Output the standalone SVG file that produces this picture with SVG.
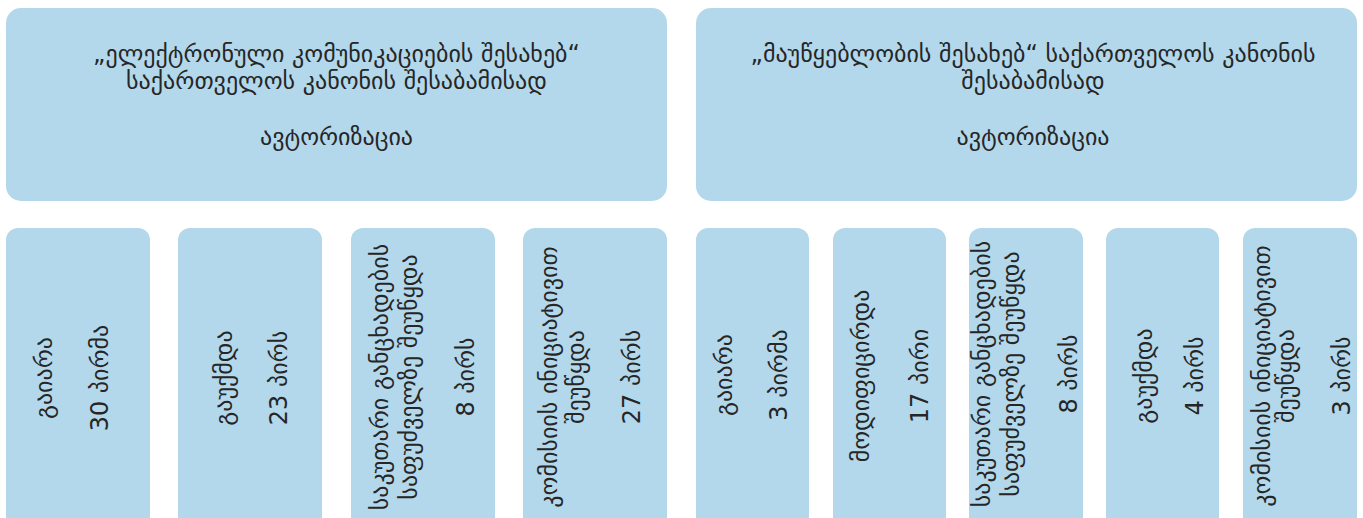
<svg xmlns="http://www.w3.org/2000/svg" width="1363" height="518" viewBox="0 0 1363 518">
<style>
.box{fill:#b3d8eb}
.t{font-family:"DejaVu Sans","Noto Sans",sans-serif;font-size:24px;fill:#262626;text-anchor:middle}
</style>
<rect width="1363" height="518" fill="#ffffff"/>
<g id="top-left">
<rect class="box" x="6" y="8" width="661" height="193" rx="15"/>
<text class="t" x="336.5" y="62">„ელექტრონული კომუნიკაციების შესახებ“</text>
<text class="t" x="336.5" y="89">საქართველოს კანონის შესაბამისად</text>
<text class="t" x="336.5" y="145">ავტორიზაცია</text>
</g>
<g id="top-right">
<rect class="box" x="696" y="8" width="661" height="193" rx="15"/>
<text class="t" x="1033" y="62">„მაუწყებლობის შესახებ“ საქართველოს კანონის</text>
<text class="t" x="1033" y="89">შესაბამისად</text>
<text class="t" x="1033" y="145">ავტორიზაცია</text>
</g>
<g id="b1">
<rect class="box" x="6" y="228" width="144" height="310" rx="12"/>
<text class="t" transform="translate(52,378) rotate(-90)">გაიარა</text>
<text class="t" transform="translate(108,378) rotate(-90)">30 პირმა</text>
</g>
<g id="b2">
<rect class="box" x="178" y="228" width="144" height="310" rx="12"/>
<text class="t" transform="translate(232,378) rotate(-90)">გაუქმდა</text>
<text class="t" transform="translate(287,378) rotate(-90)">23 პირს</text>
</g>
<g id="b3">
<rect class="box" x="351" y="228" width="144" height="310" rx="12"/>
<text class="t" transform="translate(388,377) rotate(-90)">საკუთარი განცხადების</text>
<text class="t" transform="translate(417,377) rotate(-90)">საფუძველზე შეუწყდა</text>
<text class="t" transform="translate(474,377) rotate(-90)">8 პირს</text>
</g>
<g id="b4">
<rect class="box" x="523" y="228" width="144" height="310" rx="12"/>
<text class="t" transform="translate(557,377) rotate(-90)">კომისიის ინიციატივით</text>
<text class="t" transform="translate(584,377) rotate(-90)">შეუწყდა</text>
<text class="t" transform="translate(640,377) rotate(-90)">27 პირს</text>
</g>
<g id="b5">
<rect class="box" x="696" y="228" width="113" height="310" rx="12"/>
<text class="t" transform="translate(732,375) rotate(-90)">გაიარა</text>
<text class="t" transform="translate(787,375) rotate(-90)">3 პირმა</text>
</g>
<g id="b6">
<rect class="box" x="833" y="228" width="113" height="310" rx="12"/>
<text class="t" transform="translate(869,376) rotate(-90)">მოდიფიცირდა</text>
<text class="t" transform="translate(928,376) rotate(-90)">17 პირი</text>
</g>
<g id="b7">
<rect class="box" x="969" y="228" width="114" height="310" rx="12"/>
<text class="t" transform="translate(990,374) rotate(-90)">საკუთარი განცხადების</text>
<text class="t" transform="translate(1019,374) rotate(-90)">საფუძველზე შეუწყდა</text>
<text class="t" transform="translate(1077,374) rotate(-90)">8 პირს</text>
</g>
<g id="b8">
<rect class="box" x="1106" y="228" width="113" height="310" rx="12"/>
<text class="t" transform="translate(1152,376) rotate(-90)">გაუქმდა</text>
<text class="t" transform="translate(1203,376) rotate(-90)">4 პირს</text>
</g>
<g id="b9">
<rect class="box" x="1243" y="228" width="114" height="310" rx="12"/>
<text class="t" transform="translate(1270,376) rotate(-90)">კომისიის ინიციატივით</text>
<text class="t" transform="translate(1294,376) rotate(-90)">შეუწყდა</text>
<text class="t" transform="translate(1350,376) rotate(-90)">3 პირს</text>
</g>
<g id="connectors"/>
</svg>
